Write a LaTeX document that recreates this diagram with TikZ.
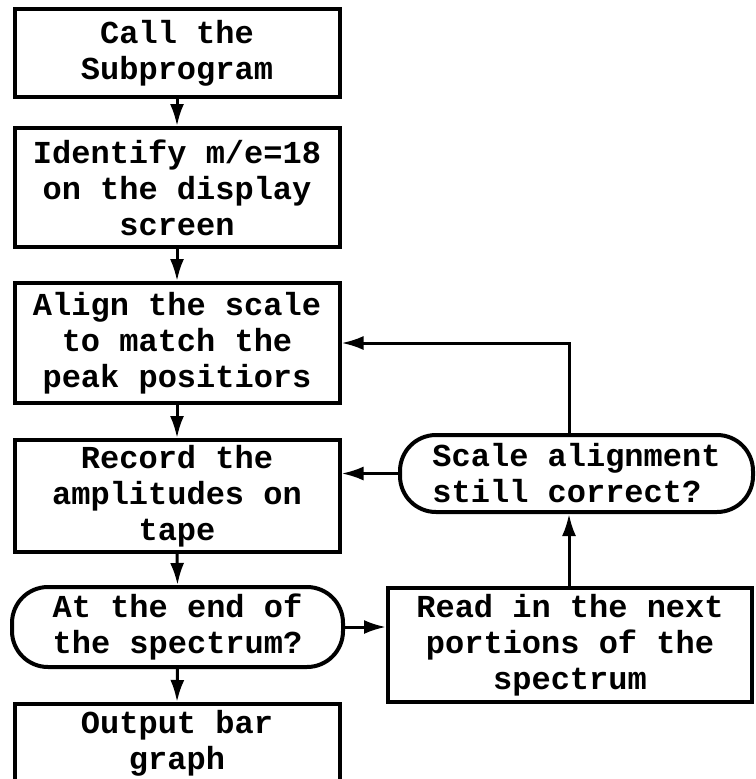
\documentclass[tikz,border=0pt]{standalone}
\usepackage{fontspec}
\setmonofont{Liberation Mono}
\usetikzlibrary{arrows.meta}
\begin{document}
\begin{tikzpicture}[x=1pt,y=1pt,
  every node/.style={font=\ttfamily\bfseries\fontsize{32}{36}\selectfont, align=center, inner sep=0pt},
  box/.style={draw, line width=4pt, minimum width=325pt},
  pill/.style={draw, line width=4pt, rounded corners=36pt},
  conn/.style={line width=3pt, -{Latex[length=22pt,width=14pt]}}]
\useasboundingbox (0,0) rectangle (755,-779);
\node[box, minimum height=88pt] (b1) at (177,-53) {Call the\\Subprogram};
\node[box, minimum height=119pt] (b2) at (177,-187.5) {Identify m/e=18\\on the display\\screen};
\node[box, minimum height=120pt] (b3) at (177,-343) {Align the scale\\to match the\\peak positiors};
\node[box, minimum height=112pt] (b4) at (177,-496) {Record the\\amplitudes on\\tape};
\node[pill, minimum width=331pt, minimum height=80pt] (p1) at (177.5,-627) {At the end of\\the spectrum?};
\node[box, minimum height=130pt, anchor=north] (b6) at (177,-702) {};
\node[anchor=north] (t6) at ([yshift=-8pt]b6.north) {Output bar\\graph};
\node[pill, minimum width=353pt, minimum height=77pt, align=left] (p2) at (576.5,-473.5) {Scale alignment\\still correct?};
\node[box, minimum width=364pt, minimum height=114pt] (b8) at (570,-645) {Read in the next\\portions of the\\spectrum};
\coordinate (vx) at (569,0);
\draw[conn] (b1.south) -- (b2.north);
\draw[conn] (b2.south) -- (b3.north);
\draw[conn] (b3.south) -- (b4.north);
\draw[conn] (b4.south) -- (p1.north);
\draw[conn] (p1.south) -- (b6.north);
\draw[conn] (p1.east) -- (p1.east -| b8.west);
\draw[conn] (vx |- b8.north) -- (vx |- p2.south);
\draw[conn] (vx |- p2.north) |- (b3.east);
\draw[conn] (p2.west) -- (p2.west -| b4.east);
\end{tikzpicture}
\end{document}
